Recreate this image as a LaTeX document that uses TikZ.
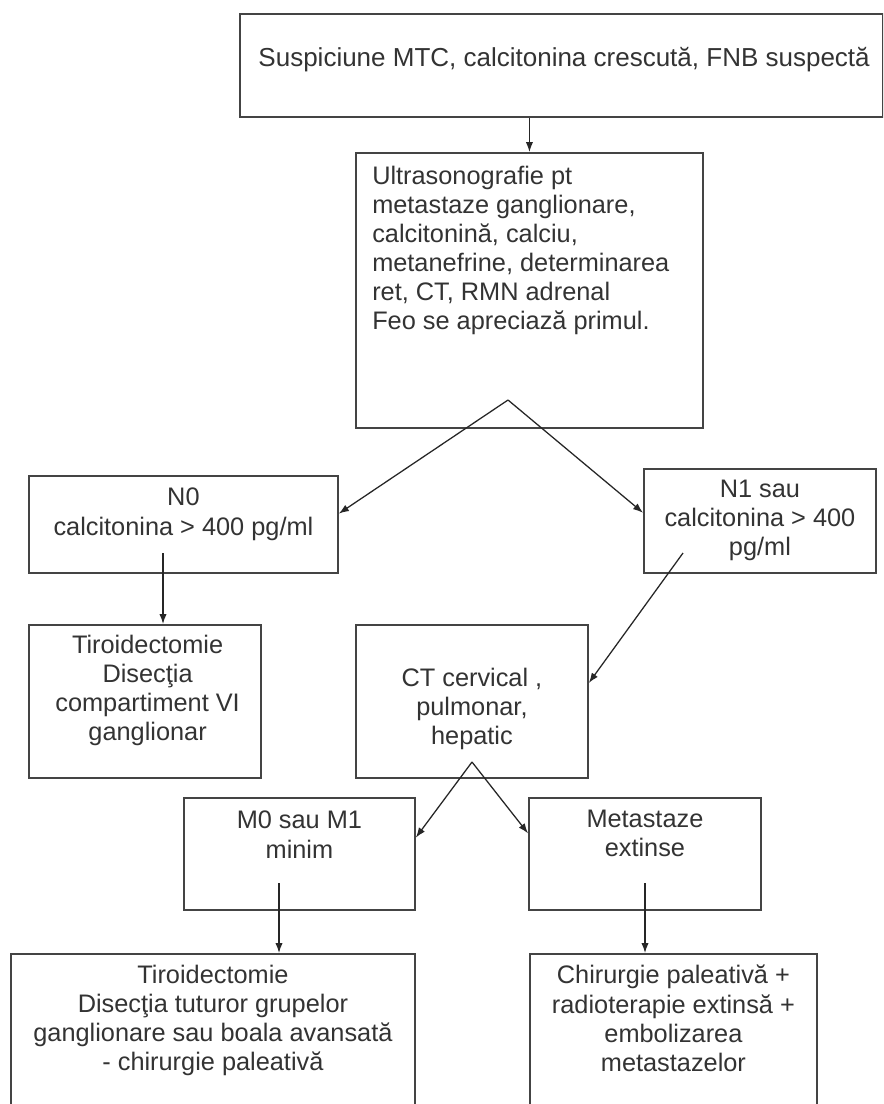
\documentclass[tikz,border=0pt]{standalone}
\usepackage{fontspec}
\setmainfont{Liberation Sans}
\usetikzlibrary{arrows.meta, positioning}
\definecolor{boxline}{HTML}{444444}
\definecolor{inkgray}{HTML}{333333}
\tikzset{
    box/.style={rectangle, draw=boxline, line width=1.4pt, anchor=north west, inner sep=0pt},
    txt/.style={inner sep=0pt, align=center, text=inkgray, font=\fontsize{19}{21.8}\selectfont},
    arrow/.style={-{Latex[length=7.5pt, width=5.5pt]}, line width=0.95pt, draw=black!85},
}

\begin{document}
\begin{tikzpicture}[x=0.75pt, y=-0.75pt]
    \useasboundingbox (0,0) rectangle (883,1104);
    \clip (0,0) rectangle (883,1104);
    \fill[white] (0,0) rectangle (883,1104);

    % Boxes
    \node[box, minimum width=482.25pt, minimum height=77.25pt] (sus) at (239,13) {};
    \node[box, minimum width=260.25pt, minimum height=206.25pt] (ultra) at (355,152) {};
    \node[box, minimum width=231.75pt, minimum height=72.75pt] (n0) at (28,475) {};
    \node[box, minimum width=174pt, minimum height=78pt] (n1) at (643,468) {};
    \node[box, minimum width=174pt, minimum height=114.75pt] (tir) at (28,624) {};
    \node[box, minimum width=174pt, minimum height=114.75pt] (ct) at (355,624) {};
    \node[box, minimum width=173.25pt, minimum height=84pt] (m0) at (183,797) {};
    \node[box, minimum width=174pt, minimum height=84pt] (mx) at (528,797) {};
    \node[box, minimum width=303pt, minimum height=127.5pt] (bl) at (10,953) {};
    \node[box, minimum width=215.25pt, minimum height=127.5pt] (br) at (529,953) {};

    % Texts
    \node[txt, font=\fontsize{19.5}{22}\selectfont, below=25.5pt of sus.north, xshift=2pt] {Suspiciune MTC, calcitonina crescută, FNB suspectă};
    \node[txt, align=left, below right=10.5pt and 12.75pt of ultra.north west] {Ultrasonografie pt\\ metastaze ganglionare,\\ calcitonină, calciu,\\ metanefrine, determinarea\\ ret, CT, RMN adrenal\\ Feo se apreciază primul.};
    \node[txt, below=9.75pt of n0.north] {N0\\ calcitonina > 400 pg/ml};
    \node[txt, below=9pt of n1.north] {N1 sau\\ calcitonina > 400\\ pg/ml};
    \node[txt, below=8.25pt of tir.north, xshift=2pt] {Tiroidectomie\\ Disecţia\\ compartiment VI\\ ganglionar};
    \node[txt, below=33pt of ct.north] {CT cervical ,\\ pulmonar,\\ hepatic};
    \node[txt, below=10.5pt of m0.north] {M0 sau M1\\ minim};
    \node[txt, below=9.75pt of mx.north] {Metastaze\\ extinse};
    \node[txt, below=9pt of bl.north] {Tiroidectomie\\ Disecţia tuturor grupelor\\ ganglionare sau boala avansată\\ - chirurgie paleativă};
    \node[txt, below=9pt of br.north] {Chirurgie paleativă +\\ radioterapie extinsă +\\ embolizarea\\ metastazelor};

    % Connectors
    \coordinate (split1) at (508,400);
    \coordinate (n0out) at (163,553);
    \coordinate (n1out) at (683,553);
    \coordinate (split2) at (472,762);
    \coordinate (m0out) at (279,883);
    \coordinate (mxout) at (645,883);

    \draw[arrow] (sus.south -| ultra.north) -- (ultra.north);
    \draw[arrow] (split1) -- (n0.4);
    \draw[arrow] (split1) -- (n1.176);
    \draw[arrow] (n0out) -- (n0out |- tir.north);
    \draw[arrow] (n1out) -- (ct.9);
    \draw[arrow] (split2) -- (m0.8);
    \draw[arrow] (split2) -- (mx.170);
    \draw[arrow] (m0out) -- (m0out |- bl.north);
    \draw[arrow] (mxout) -- (mxout |- br.north);
\end{tikzpicture}
\end{document}
